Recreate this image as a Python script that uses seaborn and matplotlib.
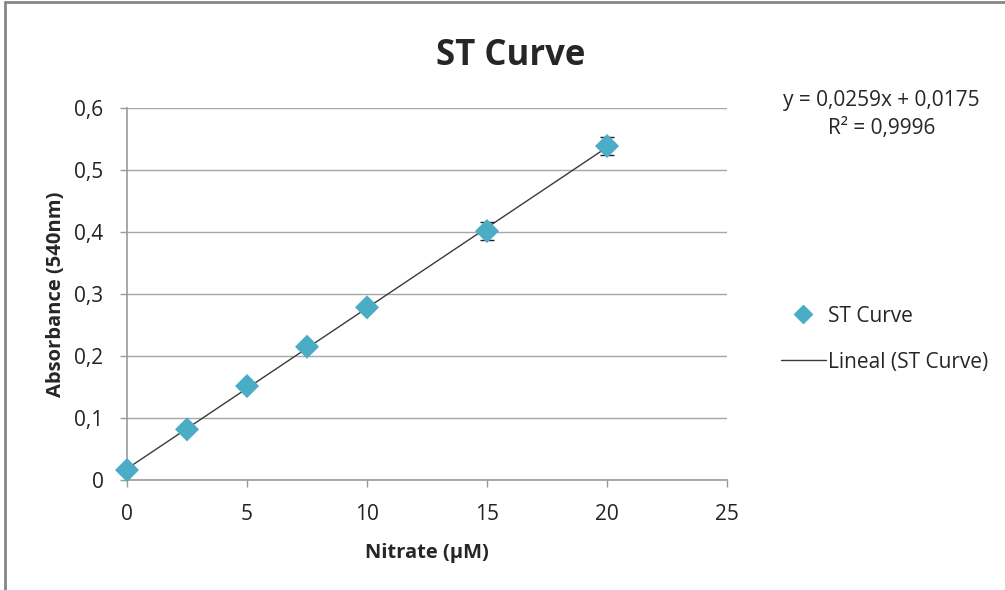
import numpy as np
import pandas as pd
import matplotlib.pyplot as plt
import matplotlib.ticker as mticker
from matplotlib.lines import Line2D
import seaborn as sns

# valores
nitrate = [0, 2.5, 5, 7.5, 10, 15, 20]
absorbance = [0.0161, 0.0817, 0.1516, 0.2150, 0.2785, 0.4016, 0.5387]
err = [0.003, 0.003, 0.004, 0.004, 0.004, 0.014, 0.015]
eq_text = 'y = 0,0259x + 0,0175'
r2_text = 'R² = 0,9996'

df = pd.DataFrame({'nitrate': nitrate, 'abs': absorbance, 'err': err})

sns.set_theme(style='white')
plt.rcParams['font.family'] = ['Open Sans', 'DejaVu Sans']

fig = plt.figure(figsize=(10.05, 5.9), dpi=100)
ax = fig.add_axes([0.1264, 0.1864, 0.597, 0.6305])

teal = '#4BACC6'
sns.regplot(data=df, x='nitrate', y='abs', scatter=False, ci=None, truncate=True,
            line_kws={'color': '#3a3a3a', 'lw': 1}, ax=ax)
ax.errorbar(df['nitrate'], df['abs'], yerr=df['err'], fmt='none',
            ecolor='#222222', elinewidth=1, capsize=5, capthick=1, zorder=3)
sns.scatterplot(data=df, x='nitrate', y='abs', marker='D', s=150, color=teal,
                edgecolor='none', zorder=4, clip_on=False, ax=ax)

ax.set_xlim(0, 25)
ax.set_ylim(0, 0.6)
ax.set_xticks(np.arange(0, 26, 5))
ax.set_yticks(np.arange(0, 0.61, 0.1))
fmt = mticker.FuncFormatter(lambda v, p: ('%g' % round(v, 2)).replace('.', ','))
ax.yaxis.set_major_formatter(fmt)
ax.xaxis.set_major_formatter(fmt)
ax.grid(axis='y', color='#a6a6a6', lw=1)
ax.set_axisbelow(True)
for s in ['top', 'right']:
    ax.spines[s].set_visible(False)
for s in ['left', 'bottom']:
    ax.spines[s].set_color('#9a9a9a')
    ax.spines[s].set_linewidth(1.2)
ax.tick_params(axis='both', length=5, width=1, color='#9a9a9a', labelsize=15,
               labelcolor='#222222', direction='out', bottom=True, left=True)
ax.tick_params(axis='x', pad=12)
ax.tick_params(axis='y', pad=12)

ax.set_xlabel('Nitrate (µM)', fontsize=14.5, fontweight='bold', labelpad=13)
ax.set_ylabel('Absorbance (540nm)', fontsize=14.5, fontweight='bold', labelpad=6)
fig.text(0.508, 0.905, 'ST Curve', ha='center', va='center', fontsize=25, fontweight='bold')

fig.text(0.877, 0.830, eq_text, ha='center', va='center', fontsize=15)
fig.text(0.877, 0.783, r2_text, ha='center', va='center', fontsize=15)

handles = [Line2D([], [], marker='D', color=teal, ls='none', markersize=9),
           Line2D([], [], color='#3a3a3a', lw=1)]
fig.legend(handles, ['ST Curve', 'Lineal (ST Curve)'], loc='center left',
           bbox_to_anchor=(0.758, 0.425), frameon=False, fontsize=15,
           handlelength=2.2, handletextpad=0.1, labelspacing=1.2)

# borde del área del gráfico
fig.add_artist(Line2D([0.005, 0.005], [0, 0.997], color='#868686', lw=2))
fig.add_artist(Line2D([0.005, 1], [0.997, 0.997], color='#868686', lw=2))

fig.savefig('out.png', dpi=100)
